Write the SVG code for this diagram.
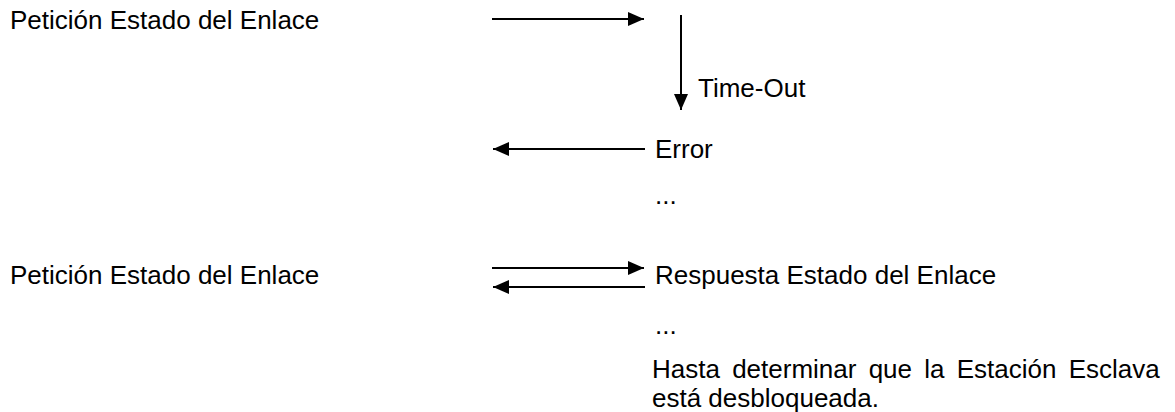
<svg xmlns="http://www.w3.org/2000/svg" width="1175" height="412" viewBox="0 0 1175 412">
<style>
text{font-family:"Liberation Sans",Arial,sans-serif;font-size:26px;fill:#000}
.c line{stroke:#000;stroke-width:2}
</style>
<defs>
<marker id="ah" viewBox="0 0 16 14" refX="16" refY="7" markerWidth="16" markerHeight="14" markerUnits="userSpaceOnUse" orient="auto">
<path d="M0,0 L16,7 L0,14 Z" fill="#000"/>
</marker>
</defs>
<rect width="1175" height="412" fill="#fff"/>
<g id="lbl1"><text x="10" y="29">Petición Estado del Enlace</text></g>
<g id="timeout"><text x="698" y="97">Time-Out</text></g>
<g id="error"><text x="655" y="158">Error</text></g>
<g id="dots1"><text x="655" y="204">...</text></g>
<g id="lbl2"><text x="10" y="284">Petición Estado del Enlace</text></g>
<g id="resp"><text x="655" y="284">Respuesta Estado del Enlace</text></g>
<g id="dots2"><text x="655" y="334">...</text></g>
<g id="hasta"><text x="652" y="378" word-spacing="5">Hasta determinar que la Estación Esclava</text><text x="652" y="407">está desbloqueada.</text></g>
<g class="c" id="connectors">
<line x1="492" y1="19" x2="644" y2="19" marker-end="url(#ah)"/>
<line x1="681" y1="15" x2="681" y2="110" marker-end="url(#ah)"/>
<line x1="645" y1="149" x2="493" y2="149" marker-end="url(#ah)"/>
<line x1="492" y1="268" x2="644" y2="268" marker-end="url(#ah)"/>
<line x1="645" y1="287" x2="493" y2="287" marker-end="url(#ah)"/>
</g>
</svg>
